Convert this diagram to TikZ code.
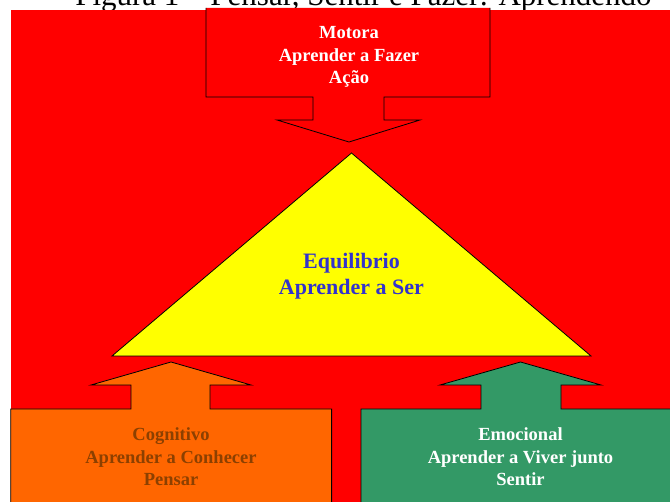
\documentclass[tikz,border=0pt]{standalone}
\usepackage{fontspec}
\setmainfont{Liberation Serif}
\definecolor{bgred}{RGB}{255,0,0}
\definecolor{triyellow}{RGB}{255,255,0}
\definecolor{cogorange}{RGB}{255,102,0}
\definecolor{emogreen}{RGB}{51,153,102}
\definecolor{cogtext}{RGB}{140,64,0}
\definecolor{eqblue}{RGB}{51,51,204}
\tikzstyle{callout}=[draw=black,line width=0.8pt,line join=miter]
\tikzstyle{boxtext}=[align=center,font=\bfseries\fontsize{18.5}{22.5}\selectfont,inner sep=0pt]
\tikzstyle{eqtext}=[align=center,text=eqblue,font=\bfseries\fontsize{22}{26}\selectfont,inner sep=0pt]

\begin{document}
\begin{tikzpicture}[x=1pt,y=-1pt]
    \useasboundingbox (0,0) rectangle (670,502);
    \clip (0,0) rectangle (670,502);
    \fill[white] (0,0) rectangle (670,502);
    \node[anchor=base,inner sep=0pt,font=\fontsize{31}{31}\selectfont] (title) at (363.5,6) {Figura 1 -- Pensar, Sentir e Fazer: Aprendendo};
    \fill[bgred] (10.7,10) rectangle (672,505);

    % Motora (down arrow)
    \draw[callout,fill=bgred] (206,8) -- (206,97) -- (313,97) -- (313,120) -- (277,120) -- (349,142)
        -- (420,120) -- (384,120) -- (384,97) -- (490,97) -- (490,8);
    % Cognitivo (up arrow)
    \draw[callout,fill=cogorange] (10.7,505) -- (10.7,409) -- (131,409) -- (131,385) -- (91,385) -- (171,362)
        -- (251,385) -- (210,385) -- (210,409) -- (331.6,409) -- (331.6,505) -- cycle;
    % Emocional (up arrow)
    \draw[callout,fill=emogreen] (361,505) -- (361,409) -- (481,409) -- (481,385) -- (440,385) -- (520.5,362)
        -- (601,385) -- (561,385) -- (561,409) -- (672,409) -- (672,505) -- cycle;
    % Equilibrio
    \draw[callout,fill=triyellow] (351.5,153) -- (591,356) -- (112,356) -- cycle;

    \node[boxtext,text=white] (motora) at (349,57) {Motora\\Aprender a Fazer\\Ação};
    \node[eqtext] (equil) at (351.5,276) {Equilibrio\\Aprender a Ser};
    \node[boxtext,text=cogtext] (cogn) at (171,457) {Cognitivo\\Aprender a Conhecer\\Pensar};
    \node[boxtext,text=white] (emoc) at (520.5,457) {Emocional\\Aprender a Viver junto\\Sentir};
\end{tikzpicture}
\end{document}
